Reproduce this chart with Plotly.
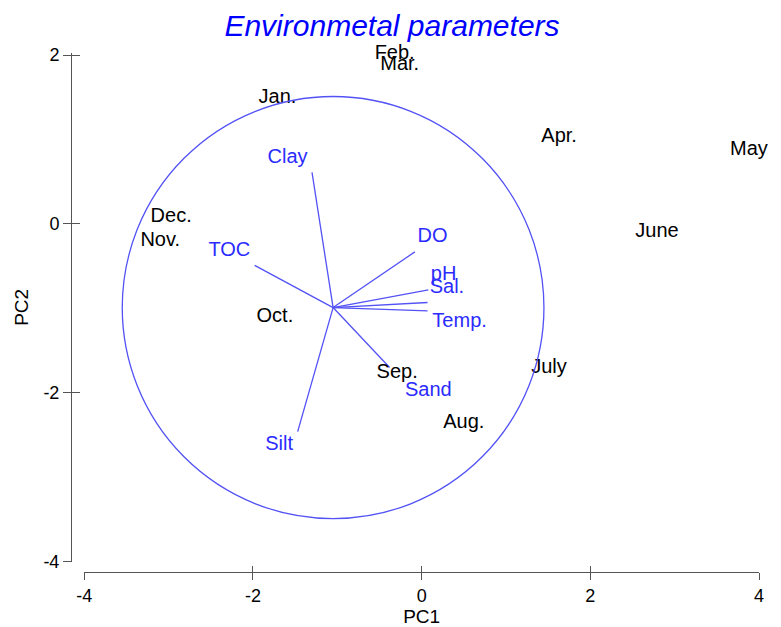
import plotly.graph_objects as go

# Sampling months: PCA scores (PC1, PC2)
months = ["Jan.", "Feb.", "Mar.", "Apr.", "May", "June",
          "July", "Aug.", "Sep.", "Oct.", "Nov.", "Dec."]
month_pc1 = [-1.71, -0.32, -0.26, 1.63, 3.88, 2.79,
             1.51, 0.50, -0.29, -1.74, -3.10, -2.97]
month_pc2 = [1.49, 2.01, 1.88, 1.03, 0.88, -0.09,
             -1.71, -2.36, -1.76, -1.10, -0.20, 0.08]

# Environmental variables: loading vector tips and label anchors
variables = ["Clay", "TOC", "DO", "pH", "Sal.", "Temp.", "Sand", "Silt"]
var_pc1 = [-1.30, -1.98, -0.08, 0.08, 0.07, 0.07, -0.38, -1.47]
var_pc2 = [0.61, -0.49, -0.33, -0.78, -0.93, -1.03, -1.70, -2.46]
label_pc1 = [-1.59, -2.28, 0.13, 0.26, 0.30, 0.45, 0.08, -1.69]
label_pc2 = [0.78, -0.32, -0.15, -0.61, -0.76, -1.16, -1.98, -2.62]

# Centre of the correlation circle (vector origin) and its radius
origin_pc1, origin_pc2 = -1.05, -0.99
circle_radius = 2.5

x_ticks = [-4, -2, 0, 2, 4]
y_ticks = [-4, -2, 0, 2]
x_tick_text = ["-4", "-2", "0", "2", "4"]
y_tick_text = ["-4", "-2", "0", "2"]

BLUE_LINE = "#5252f5"
BLUE_TEXT = "#2b2bff"
AXIS_GREY = "#555555"
FONT = "Arial, Liberation Sans, sans-serif"

W, H = 781, 627
PX_PER_UNIT = 84.4
Y_TOP = 2.025          # a little headroom so the Feb. score stays visible
ML, MR, MB = 71, 22, 55
MT = int(round(55 - (Y_TOP - 2) * PX_PER_UNIT))
paper_w = W - ML - MR
paper_h = H - MT - MB

# loading vectors drawn as segments from the common origin
seg_x, seg_y = [], []
for vx, vy in zip(var_pc1, var_pc2):
    seg_x += [origin_pc1, vx, None]
    seg_y += [origin_pc2, vy, None]

fig = go.Figure()
fig.add_trace(go.Scatter(
    x=seg_x, y=seg_y, mode="lines",
    line=dict(color=BLUE_LINE, width=1.3),
    hoverinfo="skip", showlegend=False,
))
fig.add_trace(go.Scatter(
    x=label_pc1, y=label_pc2, mode="text", text=variables,
    textposition="middle center",
    textfont=dict(family=FONT, size=20, color=BLUE_TEXT),
    cliponaxis=False, showlegend=False,
))
fig.add_trace(go.Scatter(
    x=month_pc1, y=month_pc2, mode="text", text=months,
    textposition="middle center",
    textfont=dict(family=FONT, size=20, color="black"),
    cliponaxis=False, showlegend=False,
))
# empty trace so the overlaid tick-only axes are rendered
fig.add_trace(go.Scatter(x=[], y=[], xaxis="x2", yaxis="y2",
                         showlegend=False, hoverinfo="skip"))

fig.add_shape(
    type="circle", xref="x", yref="y",
    x0=origin_pc1 - circle_radius, x1=origin_pc1 + circle_radius,
    y0=origin_pc2 - circle_radius, y1=origin_pc2 + circle_radius,
    line=dict(color=BLUE_LINE, width=1.3), layer="above",
)

x_dom = [(84.3 - ML) / paper_w, 1.0]
y_dom = [(H - MB - 561.7) / paper_h, 1.0]

common = dict(showgrid=False, zeroline=False, automargin=False,
              tickcolor=AXIS_GREY, tickwidth=1)

fig.update_layout(
    width=W, height=H,
    margin=dict(l=ML, r=MR, t=MT, b=MB, pad=0),
    paper_bgcolor="white", plot_bgcolor="white",
    template="none",
    title=dict(
        text="Environmetal parameters",
        x=392 / W, xanchor="center", y=1 - 25 / H, yanchor="middle",
        font=dict(family=FONT, size=30, color="#0000ff", style="italic"),
    ),
    xaxis=dict(
        domain=x_dom, range=[-4, 4], anchor="free", position=0,
        tickvals=x_ticks, ticktext=x_tick_text, ticks="outside", ticklen=7,
        showline=True, linecolor=AXIS_GREY, linewidth=1,
        tickfont=dict(family=FONT, size=18, color="black"),
        title=dict(text="PC1", standoff=6,
                   font=dict(family=FONT, size=19, color="black")),
        **common,
    ),
    yaxis=dict(
        domain=y_dom, range=[-4, Y_TOP], anchor="free", position=0,
        tickvals=y_ticks, ticktext=y_tick_text, ticks="outside", ticklen=8,
        showline=True, linecolor=AXIS_GREY, linewidth=1,
        tickfont=dict(family=FONT, size=18, color="black"),
        title=dict(text="PC2", standoff=8,
                   font=dict(family=FONT, size=19, color="black")),
        **common,
    ),
    xaxis2=dict(
        overlaying="x", range=[-4, 4], anchor="free", position=0,
        tickvals=x_ticks, ticks="inside", ticklen=6,
        showticklabels=False, showline=False, **common,
    ),
    yaxis2=dict(
        overlaying="y", range=[-4, Y_TOP], anchor="free", position=0,
        tickvals=y_ticks, ticks="inside", ticklen=8,
        showticklabels=False, showline=False, **common,
    ),
)

fig.write_html("out.html")
